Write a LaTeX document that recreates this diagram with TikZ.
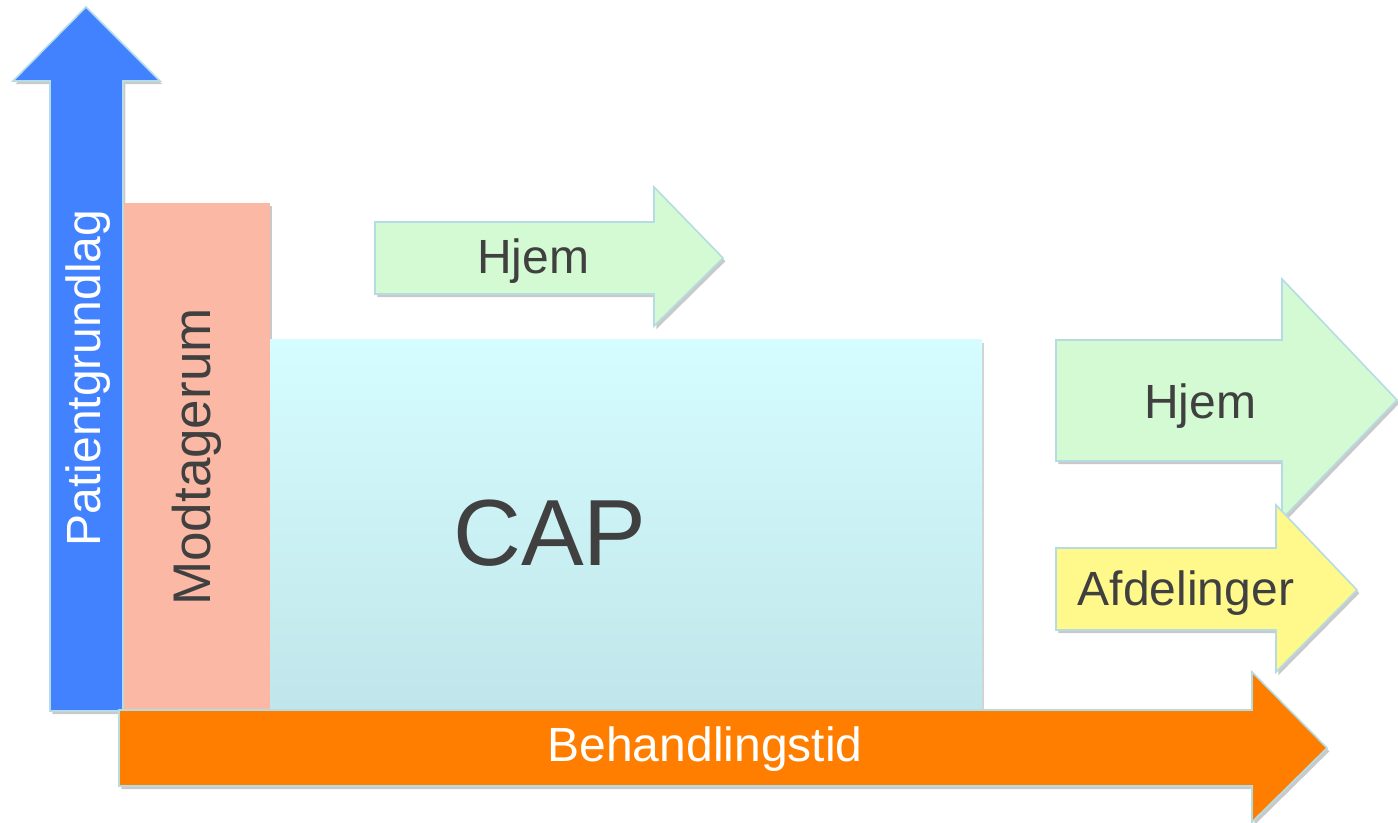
\documentclass[tikz,border=0pt]{standalone}
\usepackage{fontspec}
\setmainfont{Liberation Sans}
\usetikzlibrary{shadows}
\definecolor{axisblue}{HTML}{4282FF}
\definecolor{timeorange}{HTML}{FF7E00}
\definecolor{salmon}{HTML}{FBB9A5}
\definecolor{homegreen}{HTML}{D4FAD4}
\definecolor{wardyellow}{HTML}{FFF88A}
\definecolor{captop}{HTML}{D5FCFE}
\definecolor{capbottom}{HTML}{C0E6EB}
\definecolor{rim}{HTML}{B6DCE3}
\definecolor{textgray}{HTML}{404040}

\begin{document}
\begin{tikzpicture}[x=0.5pt, y=-0.5pt,
	box/.style={draw=rim, line width=0.8pt,
		drop shadow={shadow xshift=1.2pt, shadow yshift=-1.6pt, opacity=0.3, fill=black!70}},
	lbl/.style={text=textgray, inner sep=0pt, font=\fontsize{24}{28}\selectfont}]
	\useasboundingbox (0,0) rectangle (1398,823);
	
	% Axes
	\filldraw[box, fill=axisblue] (50,711) -- (50,81) -- (13,81) -- (86,7) -- (160,81) -- (123,81) -- (123,711) -- cycle;
	\node[lbl, text=white, rotate=90] (patient) at (88,378) {Patientgrundlag};
	
	% Reception and CAP blocks
	\filldraw[box, fill=salmon, draw=none] (124,203) rectangle (270,711);
	\node[lbl, rotate=90, font=\fontsize{26.5}{30}\selectfont] (reception) at (197,457) {Modtagerum};
	\shade[top color=captop, bottom color=capbottom, drop shadow={shadow xshift=1.2pt, shadow yshift=-1.6pt, opacity=0.25, fill=black!70}]
		(270,340) rectangle (982,710);
	\node[lbl, font=\fontsize{47}{52}\selectfont] (cap) at (550,533) {CAP};
	
	% Time axis
	\filldraw[box, fill=timeorange] (119,710) -- (1252,710) -- (1252,672) -- (1327,748) -- (1252,822) -- (1252,786) -- (119,786) -- cycle;
	\node[lbl, text=white] (time) at (705,749) {Behandlingstid};
	
	% Outflow arrows
	\filldraw[box, fill=homegreen] (375,222) -- (654,222) -- (654,187) -- (723,258) -- (654,326) -- (654,294) -- (375,294) -- cycle;
	\node[lbl] (homeA) at (533,261) {Hjem};
	\filldraw[box, fill=homegreen] (1056,340) -- (1282,340) -- (1282,279) -- (1397,400) -- (1282,519) -- (1282,461) -- (1056,461) -- cycle;
	\node[lbl] (homeB) at (1200,406) {Hjem};
	\filldraw[box, fill=wardyellow] (1056,548) -- (1276,548) -- (1276,505) -- (1357,590) -- (1276,672) -- (1276,630) -- (1056,630) -- cycle;
	\node[lbl] (wards) at (1186,593) {Afdelinger};
\end{tikzpicture}
\end{document}
